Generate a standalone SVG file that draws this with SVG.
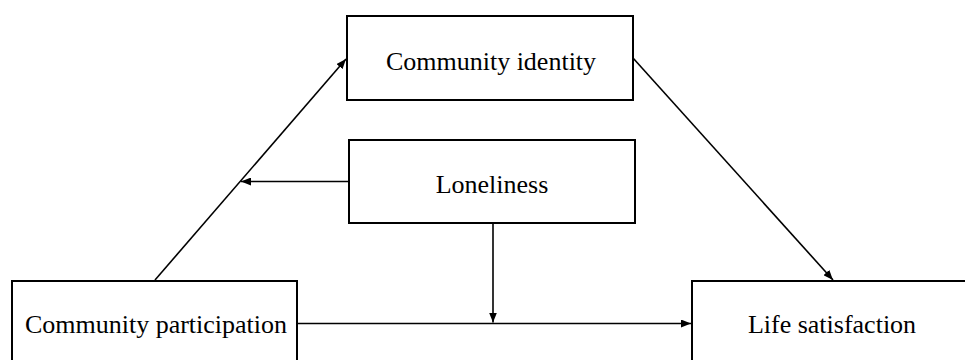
<svg xmlns="http://www.w3.org/2000/svg" width="965" height="360" viewBox="0 0 965 360">
<style>
.box{fill:#fff;stroke:#000;stroke-width:2}
.lbl{font-family:"Liberation Serif","Times New Roman",serif;font-size:26px;fill:#000;text-anchor:middle}
.con{stroke:#000;stroke-width:1.6;fill:none}
</style>
<defs>
<marker id="ah" viewBox="0 0 10 8" refX="10" refY="4" markerWidth="10" markerHeight="8" markerUnits="userSpaceOnUse" orient="auto">
<path d="M0,0 L10,4 L0,8 z" fill="#000"/>
</marker>
</defs>
<rect width="965" height="360" fill="#fff"/>
<g id="identity"><rect class="box" x="347" y="16" width="286" height="84"/><text class="lbl" x="491" y="70">Community identity</text></g>
<g id="loneliness"><rect class="box" x="349" y="140" width="286" height="83"/><text class="lbl" x="492" y="193">Loneliness</text></g>
<g id="participation"><rect class="box" x="12" y="281" width="285" height="100"/><text class="lbl" x="156" y="333">Community participation</text></g>
<g id="satisfaction"><rect class="box" x="692" y="281" width="300" height="100"/><text class="lbl" x="832" y="333">Life satisfaction</text></g>
<g id="connectors">
<line class="con" x1="155" y1="280" x2="346" y2="59" marker-end="url(#ah)"/>
<line class="con" x1="633" y1="58" x2="833" y2="280" marker-end="url(#ah)"/>
<line class="con" x1="349" y1="181.5" x2="241" y2="181.5" marker-end="url(#ah)"/>
<line class="con" x1="493" y1="223" x2="493" y2="322.5" marker-end="url(#ah)"/>
<line class="con" x1="297" y1="323.5" x2="691" y2="323.5" marker-end="url(#ah)"/>
</g>
</svg>
